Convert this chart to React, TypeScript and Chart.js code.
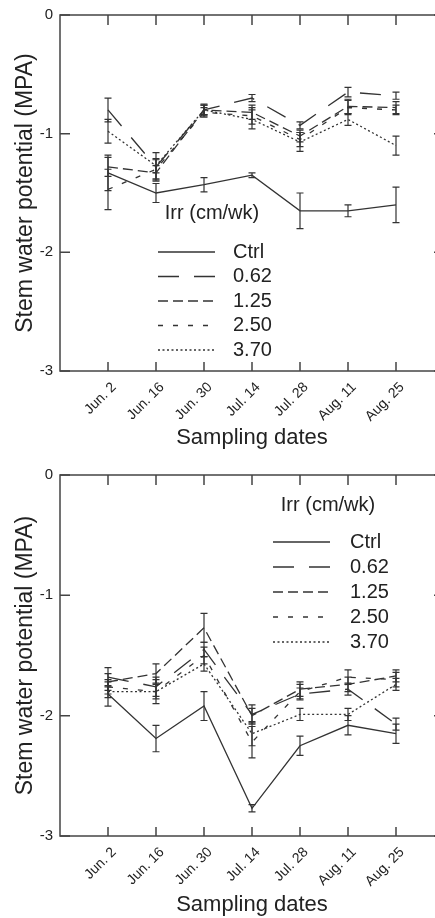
import React, { useEffect, useRef } from "react";
import { Chart, registerables } from "chart.js";

Chart.register(...registerables);

// ---------- data ----------
const dates = ["Jun. 2", "Jun. 16", "Jun. 30", "Jul. 14", "Jul. 28", "Aug. 11", "Aug. 25"];
const seriesNames = ["Ctrl", "0.62", "1.25", "2.50", "3.70"];
const yTickValues = [0, -1, -2, -3];
const legendTitle = "Irr (cm/wk)";
const yTitle = "Stem water potential (MPA)";
const xTitle = "Sampling dates";

// Panel A (top)
const aCtrl = [-1.33, -1.5, -1.43, -1.35, -1.65, -1.65, -1.6];
const a062 = [-0.8, -1.28, -0.8, -0.7, -0.93, -0.65, -0.68];
const a125 = [-1.28, -1.33, -0.8, -0.82, -1.02, -0.77, -0.78];
const a250 = [-1.47, -1.3, -0.82, -0.85, -1.05, -0.78, -0.8];
const a370 = [-0.98, -1.27, -0.8, -0.88, -1.07, -0.88, -1.1];
const aCtrlErr = [0.15, 0.08, 0.06, 0.02, 0.15, 0.05, 0.15];
const a062Err = [0.1, 0.12, 0.05, 0.03, 0.03, 0.04, 0.03];
const a125Err = [0.08, 0.06, 0.04, 0.06, 0.05, 0.06, 0.05];
const a250Err = [0.17, 0.08, 0.04, 0.07, 0.06, 0.06, 0.04];
const a370Err = [0.1, 0.06, 0.04, 0.08, 0.08, 0.05, 0.08];

// Panel B (bottom)
const bCtrl = [-1.82, -2.19, -1.92, -2.77, -2.25, -2.08, -2.15];
const b062 = [-1.68, -1.76, -1.45, -1.99, -1.82, -1.78, -2.07];
const b125 = [-1.72, -1.65, -1.27, -2.0, -1.78, -1.74, -1.67];
const b250 = [-1.76, -1.8, -1.5, -2.22, -1.8, -1.68, -1.7];
const b370 = [-1.8, -1.8, -1.57, -2.15, -1.99, -1.99, -1.74];
const bCtrlErr = [0.1, 0.11, 0.12, 0.03, 0.08, 0.08, 0.08];
const b062Err = [0.08, 0.08, 0.06, 0.08, 0.05, 0.05, 0.05];
const b125Err = [0.07, 0.08, 0.12, 0.06, 0.06, 0.06, 0.05];
const b250Err = [0.06, 0.1, 0.07, 0.13, 0.06, 0.06, 0.06];
const b370Err = [0.05, 0.06, 0.06, 0.1, 0.05, 0.05, 0.05];

// ---------- styles ----------
const INK = "#333333";
const FONT = "'Liberation Sans', Arial, sans-serif";
const dashes: number[][] = [[], [21, 15], [10, 5], [5, 10], [2, 2.5]];

const decorPlugin = {
  id: "decor",
  beforeDatasetsDraw(chart: any) {
    const { ctx } = chart;
    const y = chart.scales.y;
    const x = chart.scales.x;
    ctx.save();
    ctx.strokeStyle = INK;
    ctx.lineWidth = 1.2;
    ctx.setLineDash([]);
    chart.data.datasets.forEach((ds: any) => {
      const errs: number[] = ds.errors || [];
      ds.data.forEach((p: any, i: number) => {
        const e = errs[i];
        if (!e) return;
        const px = x.getPixelForValue(p.x);
        const y1 = y.getPixelForValue(p.y + e);
        const y2 = y.getPixelForValue(p.y - e);
        ctx.beginPath();
        ctx.moveTo(px, y1);
        ctx.lineTo(px, y2);
        ctx.moveTo(px - 3.5, y1);
        ctx.lineTo(px + 3.5, y1);
        ctx.moveTo(px - 3.5, y2);
        ctx.lineTo(px + 3.5, y2);
        ctx.stroke();
      });
    });
    ctx.restore();
  },
  afterDraw(chart: any, _args: any, opts: any) {
    const { ctx, chartArea: a } = chart;
    const x = chart.scales.x;
    const y = chart.scales.y;
    ctx.save();
    ctx.strokeStyle = "#444";
    ctx.lineWidth = 1.5;
    ctx.setLineDash([]);
    ctx.strokeRect(a.left, a.top, a.right - a.left, a.bottom - a.top);
    ctx.beginPath();
    dates.forEach((_d, i) => {
      const px = x.getPixelForValue(i);
      ctx.moveTo(px, a.top);
      ctx.lineTo(px, a.top + 10);
      ctx.moveTo(px, a.bottom);
      ctx.lineTo(px, a.bottom - 9);
    });
    yTickValues.forEach((v) => {
      const py = y.getPixelForValue(v);
      ctx.moveTo(a.left, py);
      ctx.lineTo(a.left + 10, py);
      ctx.moveTo(a.right, py);
      ctx.lineTo(a.right - 10, py);
    });
    ctx.stroke();

    // legend
    ctx.fillStyle = "#222";
    ctx.font = `20px ${FONT}`;
    ctx.textBaseline = "middle";
    ctx.textAlign = "center";
    ctx.fillText(legendTitle, a.left + opts.titleCx, a.top + opts.titleY);
    ctx.textAlign = "left";
    chart.data.datasets.forEach((ds: any, i: number) => {
      const ry = a.top + opts.row0Y + i * opts.rowGap;
      ctx.strokeStyle = INK;
      ctx.lineWidth = 1.3;
      ctx.setLineDash(ds.borderDash || []);
      ctx.beginPath();
      ctx.moveTo(a.left + opts.sampleX, ry);
      ctx.lineTo(a.left + opts.sampleX + opts.sampleW, ry);
      ctx.stroke();
      ctx.fillText(ds.label, a.left + opts.labelX, ry);
    });
    ctx.restore();
  },
};

type PanelProps = {
  series: number[][];
  errors: number[][];
  xHeight: number;
  topPad: number;
  titlePadBottom: number;
  legend: any;
};

function Panel({ series, errors, xHeight, topPad, titlePadBottom, legend }: PanelProps) {
  const ref = useRef<HTMLCanvasElement | null>(null);
  useEffect(() => {
    if (!ref.current) return;
    const chart = new Chart(ref.current, {
      type: "line",
      data: {
        datasets: series.map((vals, si) => ({
          label: seriesNames[si],
          data: vals.map((v, i) => ({ x: i, y: v })),
          errors: errors[si],
          borderColor: INK,
          borderWidth: 1.3,
          borderDash: dashes[si],
          pointRadius: 0,
          fill: false,
          tension: 0,
        })) as any,
      },
      options: {
        animation: false,
        responsive: false,
        events: [],
        layout: { padding: { top: topPad, right: 6, left: 0, bottom: 0 } },
        plugins: {
          legend: { display: false },
          tooltip: { enabled: false },
          decor: legend,
        } as any,
        scales: {
          x: {
            type: "linear",
            min: -1,
            max: 7,
            grid: { display: false, drawTicks: false },
            border: { display: false },
            afterFit: (s: any) => {
              s.height = xHeight;
              s.paddingLeft = 0;
              s.paddingRight = 0;
            },
            ticks: {
              stepSize: 1,
              autoSkip: false,
              minRotation: 45,
              maxRotation: 45,
              padding: 8,
              labelOffset: 6,
              color: "#222",
              font: { family: FONT, size: 14 },
              callback: (v: any) => (Number.isInteger(v) && v >= 0 && v < dates.length ? dates[v] : ""),
            },
            title: {
              display: true,
              text: xTitle,
              color: "#222",
              font: { family: FONT, size: 22 },
              padding: { top: 0, bottom: titlePadBottom },
            },
          },
          y: {
            type: "linear",
            min: -3,
            max: 0,
            grid: { display: false, drawTicks: false },
            border: { display: false },
            afterFit: (s: any) => {
              s.width = 60;
              s.paddingTop = 0;
              s.paddingBottom = 0;
            },
            ticks: {
              stepSize: 1,
              padding: 7,
              color: "#222",
              font: { family: FONT, size: 15 },
              callback: (v: any) => String(v),
            },
            title: {
              display: true,
              text: yTitle,
              color: "#222",
              font: { family: FONT, size: 23 },
              padding: { top: 12, bottom: 0 },
            },
          },
        },
      } as any,
      plugins: [decorPlugin as any],
    });
    return () => chart.destroy();
  }, []);
  return <canvas ref={ref} width={450} height={459} style={{ display: "block" }} />;
}

export default function App() {
  return (
    <div
      style={{
        position: "absolute",
        left: 0,
        top: 0,
        width: 435,
        height: 918,
        overflow: "hidden",
        background: "#fff",
      }}
    >
      <Panel
        series={[aCtrl, a062, a125, a250, a370]}
        errors={[aCtrlErr, a062Err, a125Err, a250Err, a370Err]}
        xHeight={88}
        topPad={15}
        titlePadBottom={8}
        legend={{ titleCx: 152, titleY: 198, sampleX: 98, sampleW: 57, labelX: 173, row0Y: 237, rowGap: 24.5 }}
      />
      <Panel
        series={[bCtrl, b062, b125, b250, b370]}
        errors={[bCtrlErr, b062Err, b125Err, b250Err, b370Err]}
        xHeight={82}
        topPad={16}
        titlePadBottom={0}
        legend={{ titleCx: 268, titleY: 30, sampleX: 213, sampleW: 57, labelX: 290, row0Y: 67, rowGap: 25 }}
      />
    </div>
  );
}
